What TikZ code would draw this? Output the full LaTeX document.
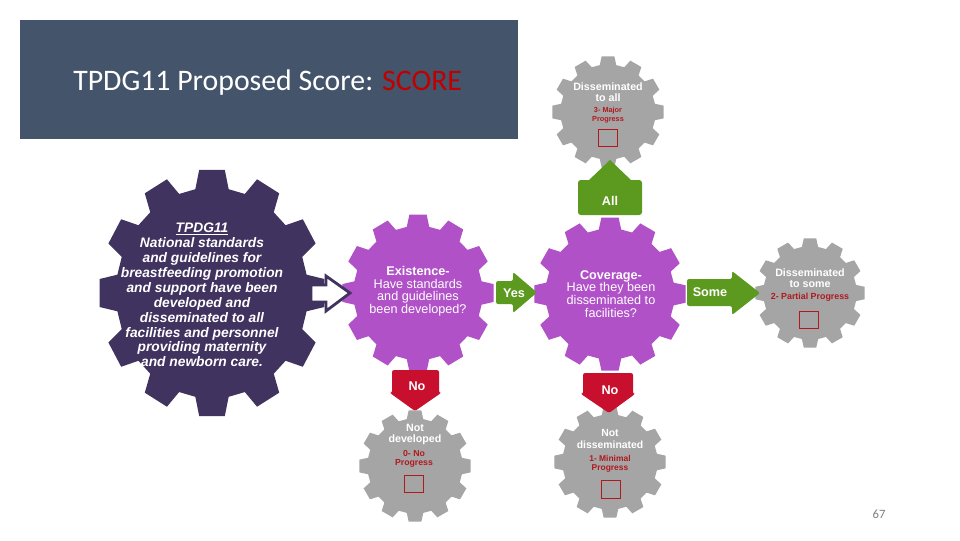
\documentclass[tikz,border=0pt]{standalone}
\usepackage{fontspec}
\setmainfont{Liberation Sans}
\newfontfamily\slidefont{Carlito}
\definecolor{slideTitle}{HTML}{44546A}
\definecolor{scoreRed}{HTML}{C00000}
\definecolor{gearDark}{HTML}{41335F}
\definecolor{gearMagenta}{HTML}{B051C8}
\definecolor{gearGray}{HTML}{A5A5A5}
\definecolor{armGreen}{HTML}{5B9A1E}
\definecolor{armRed}{HTML}{C8102E}
\definecolor{progressRed}{HTML}{B0191E}
\definecolor{pageGray}{HTML}{7F7F7F}

% twelve-tooth gear: centre, x radius, y radius, colour
\newcommand{\gearshape}[4]{%
  \fill[#4,shift={#1}] (-10:{0.85*#2} and {0.85*#3})
    \foreach \ang in {0,30,...,330} {
      -- ({\ang-10}:{0.85*#2} and {0.85*#3}) -- ({\ang-6.5}:{#2} and {#3})
      -- ({\ang+6.5}:{#2} and {#3}) -- ({\ang+10}:{0.85*#2} and {0.85*#3})
    } -- cycle;}

\begin{document}
\begin{tikzpicture}[x=0.025cm,y=-0.025cm,
  gearquestion/.style={align=center,text=white,inner sep=0pt,font=\fontsize{9}{8.9}\selectfont},
  outcome/.style={align=center,text=white,inner sep=0pt,font=\bfseries\fontsize{7.6}{7.4}\selectfont},
  progress/.style={align=center,text=progressRed,inner sep=0pt,font=\bfseries\fontsize{6}{6.4}\selectfont},
  tickbox/.style={draw=progressRed,line width=0.7pt,minimum width=14pt,minimum height=12.6pt,inner sep=0pt},
  armlabel/.style={text=white,inner sep=0pt,font=\bfseries\fontsize{9}{10}\selectfont}]
  \useasboundingbox (0,0) rectangle (960,540);
  \fill[white] (0,0) rectangle (960,540);

  \fill[slideTitle] (20,20) rectangle (518,139);
  \node[anchor=base west,inner sep=0pt,text=white,font=\slidefont\fontsize{21.2}{25}\selectfont]
    (title) at (73,90) {TPDG11 Proposed Score: \textcolor{scoreRed}{SCORE}};

  % Gears sit behind the block arrows and the texts.
  \gearshape{(212,293)}{113}{124}{gearDark}
  \gearshape{(418,293)}{76}{79}{gearMagenta}
  \gearshape{(610,294)}{76}{77}{gearMagenta}
  \foreach \x/\y/\r in {608/112/56,810/293/55,415/466/56,610/462/56}
    {\gearshape{(\x,\y)}{\r}{\r}{gearGray}}

  \draw[draw=gearDark,line width=2pt,fill=white]
    (311,285)--(326,285)--(326,276)--(350,293)--(326,311)--(326,302)--(311,302)--cycle;
  \fill[armGreen,rounded corners=1.5pt]
    (496,281)--(513,281)--(513,272)--(537,292.5)--(513,313)--(513,304)--(496,304)--cycle;
  \fill[armGreen,rounded corners=1.5pt]
    (687,279)--(732,279)--(732,271)--(760,293)--(732,315)--(732,306)--(687,306)--cycle;
  \fill[armGreen,rounded corners=2pt] (578,180) rectangle (642,215);
  \fill[armGreen] (588,181)--(610,160)--(632,181)--cycle;
  \fill[armRed,rounded corners=1.5pt]
    (392,370)--(439,370)--(439,393)--(441,393)--(415,411)--(390,393)--(392,393)--cycle;
  \fill[armRed,rounded corners=1.5pt]
    (583,373)--(633,373)--(633,394)--(635,394)--(609,413)--(581,394)--(583,394)--cycle;

  \node[armlabel] (yes) at (514,293) {Yes};
  \node[armlabel] (some) at (710,292) {Some};
  \node[armlabel] (all) at (610,201) {All};
  \node[armlabel] (notyet) at (417,386) {No};
  \node[armlabel] (notall) at (610,390) {No};

  \node[align=center,text=white,inner sep=0pt,font=\bfseries\itshape\fontsize{9.8}{10.6}\selectfont]
    (standard) at (202,295) {\underline{TPDG11}\\National standards\\and guidelines for\\
    breastfeeding promotion\\and support have been\\developed and\\disseminated to all\\
    facilities and personnel\\providing maternity\\and newborn care.};
  \node[gearquestion] (existence) at (418,291) {\textbf{Existence-}\\Have standards\\and guidelines\\been developed?};
  \node[gearquestion,font=\fontsize{9}{9.1}\selectfont] (coverage) at (611,294)
    {\textbf{Coverage-}\\Have they been\\disseminated to\\facilities?};

  \node[outcome,font=\bfseries\fontsize{7.6}{7.4}\selectfont] (toall) at (608,92) {Disseminated\\to all};
  \node[progress,font=\bfseries\fontsize{5.2}{6.4}\selectfont] (major) at (608,115.5) {3- Major\\Progress};
  \node[tickbox] (majorbox) at (608,138) {};

  \node[outcome,font=\bfseries\fontsize{7.6}{7.4}\selectfont] (tosome) at (810,278) {Disseminated\\to some};
  \node[progress,font=\bfseries\fontsize{6.3}{7}\selectfont] (partial) at (810,297) {2- Partial Progress};
  \node[tickbox] (partialbox) at (809,320) {};

  \node[outcome,font=\bfseries\fontsize{7.6}{7.8}\selectfont] (notdeveloped) at (415,434.5) {Not\\developed};
  \node[progress,font=\bfseries\fontsize{6.2}{6.4}\selectfont] (noprogress) at (414,458.5) {0- No\\Progress};
  \node[tickbox] (nobox) at (414,484) {};

  \node[outcome,font=\bfseries\fontsize{7.4}{8.5}\selectfont] (notdisseminated) at (610,439) {Not\\disseminated};
  \node[progress] (minimal) at (610,463.5) {1- Minimal\\Progress};
  \node[tickbox] (minimalbox) at (611,489.5) {};

  \node[text=pageGray,font=\slidefont\fontsize{9}{10}\selectfont] (page) at (879,514) {67};
\end{tikzpicture}
\end{document}
